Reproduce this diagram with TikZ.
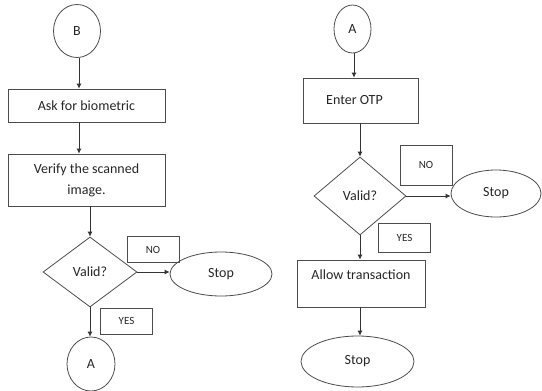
\documentclass[tikz,border=0pt]{standalone}
\usepackage{fontspec}
\setmainfont{Carlito}
\usetikzlibrary{positioning,arrows.meta,shapes.geometric}

\begin{document}
\begin{tikzpicture}[x=1pt, y=-1pt,
  every node/.style={font=\fontsize{14}{21}\selectfont, text=black!85},
  procbox/.style={draw=black!70, line width=0.8pt, align=center, inner sep=2pt},
  connector/.style={draw=black!70, line width=0.8pt, ellipse, inner sep=0pt},
  decision/.style={draw=black!70, line width=0.8pt, diamond, inner sep=0pt},
  answer/.style={draw=black!70, line width=0.8pt, minimum width=52pt, minimum height=26pt, font=\fontsize{11}{13}\selectfont},
  flow/.style={draw=black!80, line width=0.8pt, -{Latex[length=5pt,width=5pt]}}
]
\useasboundingbox (0,0) rectangle (542,391);

% left column
\node[connector, minimum width=47pt, minimum height=53pt] (conB) at (77,31) {B};
\node[procbox, minimum width=157pt, minimum height=33pt] (askbio) at (86.5,105.5) {Ask for biometric};
\node[procbox, minimum width=157pt, minimum height=52pt] (verify) at (86.5,180) {Verify the scanned\\image.};
\node[decision, minimum width=94pt, minimum height=70pt] (validL) at (90,272) {Valid?};
\node[connector, minimum width=102pt, minimum height=44pt] (stopL) at (221,274) {Stop};
\node[answer] (noL) at (153,249.5) {NO};
\node[answer] (yesL) at (126.5,321) {YES};
\node[connector, minimum width=48pt, minimum height=54pt] (conAL) at (91,364) {A};

\draw[flow] (conB.south -| 79,0) -- (askbio.north -| 79,0);
\draw[flow] (askbio.south -| 79,0) -- (verify.north -| 79,0);
\draw[flow] (verify.south -| validL.north) -- (validL.north);
\draw[flow] (validL.east) -- (validL.east -| stopL.west);
\draw[flow] (validL.south) -- (conAL.north -| validL.south);

% right column
\node[connector, minimum width=37pt, minimum height=48pt] (conAR) at (352.5,29) {A};
\node[procbox, minimum width=115pt, minimum height=45pt] (otp) at (360.5,100.5) {Enter OTP\hspace{12pt}};
\node[decision, minimum width=92pt, minimum height=78pt] (validR) at (360,196) {Valid?};
\node[connector, minimum width=90pt, minimum height=47pt] (stopR) at (496,193.5) {Stop};
\node[answer, minimum height=40pt] (noR) at (426,165) {NO};
\node[answer, minimum height=29pt] (yesR) at (404.5,237.5) {YES};
\node[procbox, minimum width=128pt, minimum height=47pt] (allow) at (361,283.5) {Allow transaction\\[-4pt]\mbox{}};
\node[connector, minimum width=113pt, minimum height=51pt] (stopEnd) at (357.5,361.5) {Stop};

\draw[flow] (conAR.south -| 354,0) -- (otp.north -| 354,0);
\draw[flow] (otp.south -| validR.north) -- (validR.north);
\draw[flow] (validR.east) -- (validR.east -| stopR.west);
\draw[flow] (validR.south) -- (allow.north -| validR.south);
\draw[flow] (allow.south -| validR.south) -- (stopEnd.north -| validR.south);
\end{tikzpicture}
\end{document}
